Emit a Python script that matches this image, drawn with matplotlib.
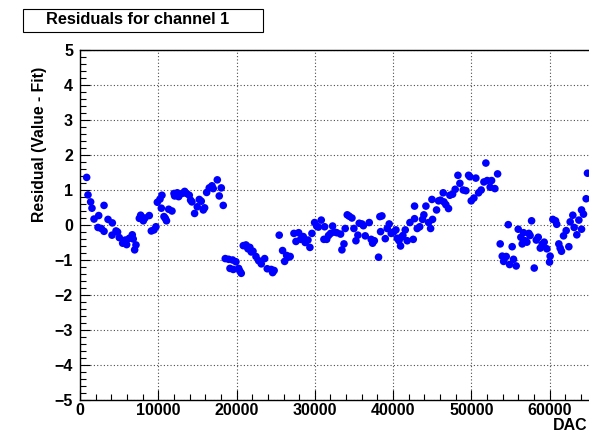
import numpy as np
import matplotlib
matplotlib.use("Agg")
from matplotlib import pyplot as plt
from matplotlib.patches import Rectangle
from matplotlib.ticker import MultipleLocator

plt.rcParams['font.family'] = ['Liberation Sans', 'DejaVu Sans']
plt.rcParams['font.weight'] = 'bold'

# residuals (DAC, residual)
dac = [850, 1020, 1360, 1530, 1790, 2300, 2390, 2720, 3070, 3070, 3580, 4090,
       4130, 4600, 4800, 5020, 5450, 5790, 5960, 6300, 6680, 6800, 6980, 7150,
       7580, 7750, 8090, 8300, 8850, 9110, 9450, 9700, 9880, 10220, 10390, 10470,
       10730, 10900, 11050, 11330, 11750, 12010, 12090, 12430, 12600, 13030, 13370,
       13620, 13960, 14130, 14300, 14640, 14980, 15240, 15490, 15750, 15920, 16180,
       16510, 16860, 17020, 17540, 17790, 18050, 18300, 18560, 18990, 19160, 19500,
       19580, 19920, 20270, 20430, 20600, 20860, 21200, 21350, 21460, 21700, 21880,
       22100, 22480, 22820, 23160, 23590, 23920, 24430, 24610, 24800, 25450, 25880,
       26140, 26400, 26600, 26850, 27330, 27590, 27930, 28180, 28520, 28770, 29120,
       29370, 29630, 29970, 30230, 30450, 30820, 31160, 31250, 31510, 31750, 32020,
       32270, 32500, 32800, 33290, 33460, 33720, 33880, 34140, 34400, 34740, 34990,
       35250, 35500, 35670, 36020, 36200, 36440, 36950, 37200, 37380, 37600, 38140,
       38310, 38400, 38570, 39000, 39250, 39500, 39760, 40050, 40360, 40530, 40750,
       40950, 41040, 41250, 41550, 41800, 42150, 42570, 42740, 42740, 43080, 43400,
       43760, 43930, 44190, 44530, 44790, 44960, 45040, 45550, 45810, 46050, 46400,
       46490, 46740, 47080, 47250, 47600, 47930, 48280, 48530, 48960, 49300, 49640,
       49800, 49980, 50320, 50570, 50920, 51250, 51600, 51850, 52020, 52400, 52580,
       53000, 53350, 53680, 53940, 54120, 54450, 54710, 54880, 55210, 55380, 55720,
       55980, 56320, 56490, 56660, 56880, 57090, 57340, 57500, 57690, 58030, 58290,
       58540, 58800, 59050, 59300, 59640, 59980, 60060, 60410, 60750, 60900, 61170,
       61340, 61510, 61770, 62110, 62450, 62620, 62960, 63130, 63470, 63730, 64070,
       64070, 64320, 64660, 64830]
resid = [1.36, 0.86, 0.66, 0.48, 0.17, -0.07, 0.27, -0.10, 0.56, -0.18, 0.16, -0.29,
         0.06, -0.17, -0.20, -0.36, -0.52, -0.43, -0.56, -0.38, -0.28, -0.40, -0.71, -0.57,
         0.19, 0.28, 0.12, 0.20, 0.27, -0.17, -0.14, -0.05, 0.65, 0.74, 0.48, 0.85,
         0.24, 0.19, 0.12, 0.45, 0.40, 0.90, 0.83, 0.92, 0.81, 0.90, 0.96,
         0.90, 0.85, 0.71, 0.66, 0.33, 0.52, 0.73, 0.68, 0.43, 0.49, 0.93,
         1.06, 1.12, 1.04, 1.29, 0.83, 1.06, 0.56, -0.96, -0.98, -1.24, -1.00,
         -1.27, -1.05, -1.24, -1.32, -1.38, -0.59, -0.57, -0.62, -0.68, -0.64, -0.77,
         -0.75, -0.90, -1.02, -1.11, -0.96, -1.25, -1.27, -1.36, -1.30, -0.29, -0.73,
         -1.04, -0.87, -0.92, -0.90, -0.24, -0.47, -0.22, -0.41, -0.33, -0.50, -0.43,
         -0.64, -0.24, 0.07, -0.03, -0.06, 0.14, -0.41, -0.05, -0.41, -0.30, -0.24,
         -0.03, -0.20, -0.22, -0.26, -0.71, -0.54, -0.10, 0.29, 0.25, 0.20, -0.10,
         -0.45, -0.29, 0.05, 0.03, -0.02, -0.31, 0.07, -0.41, -0.52, -0.45, -0.92,
         0.24, -0.19, 0.26, -0.39, -0.10, 0.03, -0.24, -0.20, -0.14, -0.38, -0.45,
         -0.60, -0.35, -0.30, -0.14, -0.45, 0.07, -0.41, 0.18, 0.54, -0.10, -0.05,
         0.16, 0.29, 0.54, 0.07, -0.10, 0.73, 0.16, 0.43, 0.69, 0.71, 0.92,
         0.66, 0.58, 0.47, 0.85, 0.88, 1.02, 1.42, 1.19, 1.00, 0.98, 1.42,
         1.38, 0.69, 0.77, 1.34, 0.92, 1.00, 1.23, 1.77, 1.27, 1.08, 1.27,
         1.04, 1.46, -0.54, -0.89, -1.04, -0.90, 0.01, -1.13, -0.62, -0.98, -1.17,
         -0.12, -0.35, -0.54, -0.22, -0.45, -0.49, -0.24, -0.30, 0.12, -1.23, -0.43,
         -0.35, -0.66, -0.55, -0.49, -0.68, -1.06, -0.89, 0.16, 0.12, 0.02, -0.54,
         -0.66, -0.75, -0.31, -0.16, -0.62, 0.09, 0.28, -0.07, -0.28, 0.14, -0.12,
         0.43, 0.31, 0.75, 1.48]

fig = plt.figure(figsize=(5.89, 4.32), dpi=100)
ax = fig.add_axes([80 / 589, 32 / 432, 513 / 589, 350 / 432])

ax.scatter(dac, resid, s=30, color='#0000ff', edgecolors='none', zorder=3, clip_on=False)

ax.set_xlim(0, 65536)
ax.set_ylim(-5, 5)
ax.xaxis.set_major_locator(MultipleLocator(10000))
ax.xaxis.set_minor_locator(MultipleLocator(2000))
ax.yaxis.set_major_locator(MultipleLocator(1))
ax.yaxis.set_minor_locator(MultipleLocator(0.2))
ax.grid(True, which='major', color='0.3', linestyle=(0, (1, 2)), linewidth=0.8)
ax.tick_params(which='both', direction='in', labelsize=11.5, top=False, right=False)
ax.tick_params(which='major', length=7, width=0.8)
ax.tick_params(which='minor', length=4, width=0.8)
ax.tick_params(axis='x', pad=2)
ax.tick_params(axis='y', pad=5)
for lab in ax.get_xticklabels() + ax.get_yticklabels():
    lab.set_fontweight('bold')
for sp in ax.spines.values():
    sp.set_linewidth(1.0)

fig.text(40 / 589, 1 - 67 / 432, "Residual (Value - Fit)", rotation=90,
         ha='center', va='top', fontsize=11.3, fontweight='bold')
fig.text(553 / 589, 1 - 425 / 432, "DAC", ha='left', va='center',
         fontsize=11.5, fontweight='bold')

fig.patches.append(Rectangle((23 / 589, 1 - 32 / 432), 240 / 589, 23 / 432,
                             transform=fig.transFigure, facecolor='white',
                             edgecolor='black', linewidth=0.8))
fig.text(138 / 589, 1 - 20 / 432, "Residuals for channel 1", ha='center',
         va='center', fontsize=11.8, fontweight='bold')

fig.savefig("out.png", dpi=100)
